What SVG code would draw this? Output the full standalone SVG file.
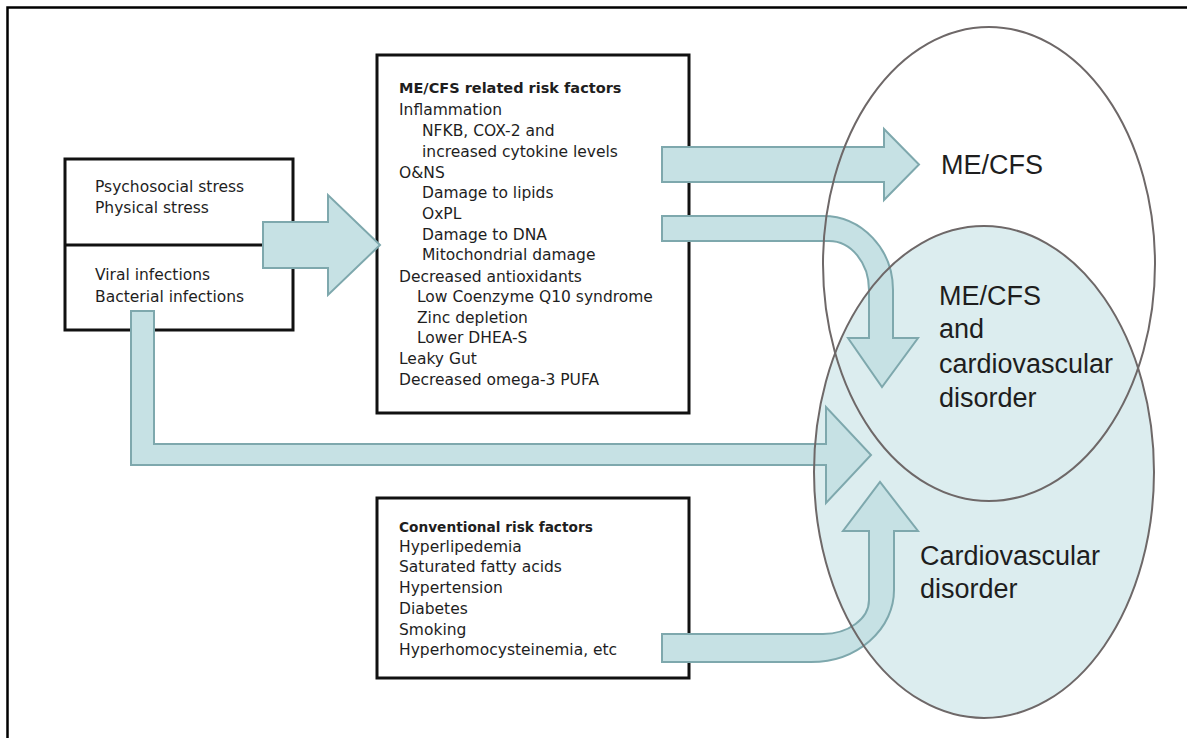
<svg xmlns="http://www.w3.org/2000/svg" width="1187" height="738" viewBox="0 0 1187 738">
<style>
.box{fill:#fff;stroke:#111;stroke-width:3}
.t{font-family:"DejaVu Sans",sans-serif;font-size:15.5px;fill:#1e1e1e}
.b{font-family:"DejaVu Sans",sans-serif;font-weight:bold;fill:#1e1e1e}
.big{font-family:"Liberation Sans",Arial,sans-serif;font-size:27px;fill:#1e1e1e}
.arr{fill:#c6e1e4;stroke:#7ea8ad;stroke-width:2;stroke-linejoin:miter}
.ell{fill:none;stroke:#6e6868;stroke-width:2}
</style>
<rect width="1187" height="738" fill="#fff"/>
<path d="M7.5,738 V7.5 H1187" fill="none" stroke="#000" stroke-width="2.5"/>
<ellipse id="cvd-fill" cx="984" cy="472" rx="170" ry="246" fill="#dcedef"/>
<g id="stress-box">
<rect class="box" x="65" y="159" width="228" height="171"/>
<line x1="65" y1="245" x2="293" y2="245" stroke="#111" stroke-width="3"/>
<text class="t" x="95" y="192">Psychosocial stress</text>
<text class="t" x="95" y="213">Physical stress</text>
<text class="t" x="95" y="280">Viral infections</text>
<text class="t" x="95" y="302">Bacterial infections</text>
</g>
<g id="mecfs-box">
<rect class="box" x="377" y="55" width="312" height="358"/>
<text class="b" x="399" y="93" font-size="14.5">ME/CFS related risk factors</text>
<text class="t" x="399" y="115">Inflammation</text>
<text class="t" x="422" y="136">NFKB, COX-2 and</text>
<text class="t" x="422" y="157">increased cytokine levels</text>
<text class="t" x="399" y="178">O&amp;NS</text>
<text class="t" x="422" y="198">Damage to lipids</text>
<text class="t" x="422" y="219">OxPL</text>
<text class="t" x="422" y="240">Damage to DNA</text>
<text class="t" x="422" y="260">Mitochondrial damage</text>
<text class="t" x="399" y="282">Decreased antioxidants</text>
<text class="t" x="417" y="302">Low Coenzyme Q10 syndrome</text>
<text class="t" x="417" y="323">Zinc depletion</text>
<text class="t" x="417" y="343">Lower DHEA-S</text>
<text class="t" x="399" y="364">Leaky Gut</text>
<text class="t" x="399" y="385">Decreased omega-3 PUFA</text>
</g>
<g id="conventional-box">
<rect class="box" x="377" y="498" width="312" height="180"/>
<text class="b" x="399" y="532" font-size="13.7">Conventional risk factors</text>
<text class="t" x="399" y="552">Hyperlipedemia</text>
<text class="t" x="399" y="572">Saturated fatty acids</text>
<text class="t" x="399" y="593">Hypertension</text>
<text class="t" x="399" y="614">Diabetes</text>
<text class="t" x="399" y="635">Smoking</text>
<text class="t" x="399" y="655">Hyperhomocysteinemia, etc</text>
</g>
<g id="connectors">
<path class="arr" d="M263,222 H328 V195 L380,245 L328,295 V268 H263 Z"/>
<path class="arr" d="M662,147 H884 V129 L919,164.5 L884,200 V182 H662 Z"/>
<path class="arr" d="M662,216 H823 A70,74 0 0 1 893,290 V338 H918 L882,387 L848,338 H869 V290 A40,49 0 0 0 829,241 H662 Z"/>
<path class="arr" d="M131,311 H154 V444 H826 V407 L871,455 L826,503 V465 H131 Z"/>
<path class="arr" d="M662,634 H823 A46,34 0 0 0 869,600 V531 H843 L880,482 L918,531 H894 V590 A83,72 0 0 1 811,662 H662 Z"/>
</g>
<g id="mecfs-ellipse">
<ellipse class="ell" cx="989" cy="264" rx="166" ry="237"/>
<text class="big" x="941" y="174">ME/CFS</text>
</g>
<g id="cvd-ellipse">
<ellipse class="ell" cx="984" cy="472" rx="170" ry="246"/>
<text class="big" x="920" y="565">Cardiovascular</text>
<text class="big" x="920" y="598">disorder</text>
</g>
<g id="overlap">
<text class="big" x="939" y="305">ME/CFS</text>
<text class="big" x="939" y="338">and</text>
<text class="big" x="939" y="373">cardiovascular</text>
<text class="big" x="939" y="407">disorder</text>
</g>
</svg>
